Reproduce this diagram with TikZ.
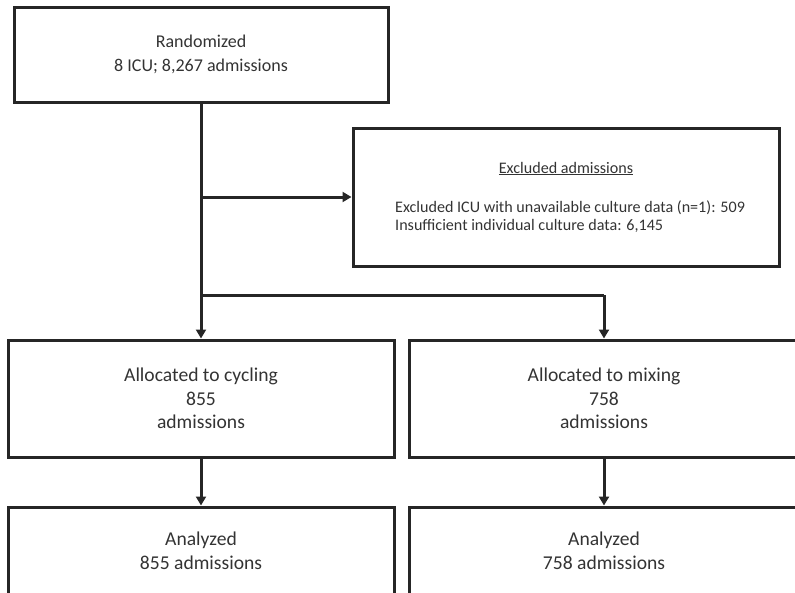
\documentclass[tikz,border=0pt]{standalone}
\usepackage{fontspec}
\setmainfont{Carlito}
\usetikzlibrary{arrows.meta}
\definecolor{linec}{HTML}{262626}
\definecolor{textc}{HTML}{333333}
\begin{document}
\begin{tikzpicture}[x=1pt,y=-1pt,
  box/.style={draw=linec,line width=3pt,inner sep=0pt,text=textc,align=center},
  arr/.style={draw=linec,line width=3pt,-{Triangle[length=9pt,width=10pt]}},
  ln/.style={draw=linec,line width=3pt},
  big/.style={font=\fontsize{18}{23.5}\selectfont},
  mid/.style={font=\fontsize{19.6}{23.5}\selectfont},
  small/.style={font=\fontsize{16.1}{18}\selectfont,text=textc,inner sep=0pt}]
\useasboundingbox (0,0) rectangle (795,592);
\clip (0,0) rectangle (795,592);
\node[box,big,minimum width=374pt,minimum height=95pt] (top) at (201,54.5) {Randomized\\8 ICU; 8,267 admissions};
\node[box,minimum width=426pt,minimum height=138pt] (exc) at (566,197) {};
\node[small,anchor=base] (exct) at (566,173) {\underline{Excluded admissions}};
\node[small,anchor=base west,align=left] (excl) at (395,230) {Excluded ICU with unavailable culture data (n=1): 509\\Insufficient individual culture data: 6,145};
\node[box,mid,minimum width=386pt,minimum height=117pt] (cyc) at (201,398.5) {Allocated to cycling\\855\\admissions};
\node[box,mid,minimum width=390pt,minimum height=117pt] (mix) at (604,398.5) {Allocated to mixing\\758\\admissions};
\node[box,minimum width=386pt,minimum height=117pt] (ana1) at (201,565.5) {};
\node[box,minimum width=390pt,minimum height=117pt] (ana2) at (604,565.5) {};
\node[mid,text=textc,align=center] (ana1t) at (201,551) {Analyzed\\855 admissions};
\node[mid,text=textc,align=center] (ana2t) at (604,551) {Analyzed\\758 admissions};
\coordinate (b0) at (201,197);
\coordinate (b1) at (201,295);
\draw[arr] (top.south) -- (cyc.north);
\draw[arr] (b0) -- (exc.west);
\draw[ln] (b1) -- (b1 -| mix.north);
\draw[arr] (b1 -| mix.north) -- (mix.north);
\draw[arr] (cyc.south) -- (ana1.north);
\draw[arr] (mix.south) -- (ana2.north);
\end{tikzpicture}
\end{document}
